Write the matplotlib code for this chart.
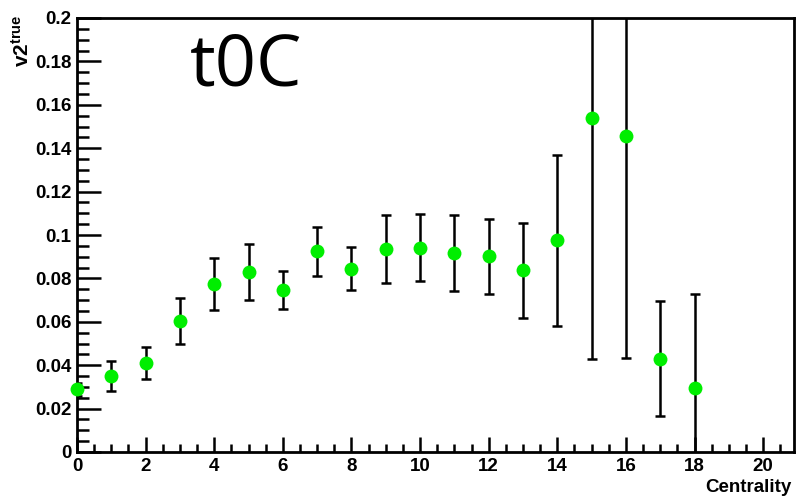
import matplotlib
matplotlib.use("Agg")
import matplotlib.pyplot as plt
from matplotlib.ticker import MultipleLocator, FuncFormatter

# Elliptic flow v2 per centrality bin
centrality = list(range(19))
v2_true = [0.0290, 0.0350, 0.0410, 0.0604, 0.0773, 0.0830, 0.0748, 0.0925,
           0.0845, 0.0937, 0.0942, 0.0916, 0.0903, 0.0837, 0.0975, 0.1540,
           0.1455, 0.0430, 0.0293]
v2_err = [0.0030, 0.0070, 0.0073, 0.0105, 0.0120, 0.0128, 0.0087, 0.0114,
          0.0099, 0.0157, 0.0153, 0.0175, 0.0173, 0.0218, 0.0393, 0.1110,
          0.1020, 0.0264, 0.0433]

plt.rcParams["font.family"] = ["Liberation Sans", "DejaVu Sans"]
plt.rcParams["mathtext.fontset"] = "custom"
plt.rcParams["mathtext.bf"] = "Liberation Sans:bold"
plt.rcParams["mathtext.rm"] = "Liberation Sans:bold"

fig = plt.figure(figsize=(7.96, 4.99), dpi=100)
ax = fig.add_axes([77 / 796, 47 / 499, 717 / 796, 434 / 499])

ax.errorbar(centrality, v2_true, yerr=v2_err, fmt="none", ecolor="black",
            elinewidth=1.8, capsize=3.5, capthick=1.8, zorder=2)
ax.plot(centrality, v2_true, "o", color="#00ee00", markersize=10,
        markeredgewidth=0, zorder=3, clip_on=False)

ax.set_xlim(0, 20.9)
ax.set_ylim(0, 0.2)

ax.xaxis.set_major_locator(MultipleLocator(2))
ax.xaxis.set_minor_locator(MultipleLocator(0.5))
ax.yaxis.set_major_locator(MultipleLocator(0.02))
ax.yaxis.set_minor_locator(MultipleLocator(0.005))

def yfmt(v, pos):
    if abs(v) < 1e-9:
        return "0"
    return ("%.2f" % v).rstrip("0")

ax.yaxis.set_major_formatter(FuncFormatter(yfmt))
ax.xaxis.set_major_formatter(FuncFormatter(lambda v, p: "%d" % round(v)))

ax.tick_params(axis="both", which="both", direction="in", top=False,
               right=False, width=1.8, labelsize=13.5)
ax.tick_params(axis="x", which="major", length=11, pad=4)
ax.tick_params(axis="x", which="minor", length=5.5)
ax.tick_params(axis="y", which="major", length=17, pad=4)
ax.tick_params(axis="y", which="minor", length=8.5)
for lab in ax.get_xticklabels() + ax.get_yticklabels():
    lab.set_fontweight("bold")

for side in ("left", "bottom", "top", "right"):
    ax.spines[side].set_linewidth(2)

ax.text(0.158, 0.888, "t0C", transform=ax.transAxes, fontsize=52,
        family=["Open Sans", "DejaVu Sans"], ha="left", va="center")

fig.text(792 / 796, 1 - 487 / 499, "Centrality", ha="right", va="center",
         fontsize=13.5, fontweight="bold")
fig.text(22 / 796, 1 - 14 / 499, r"$\mathbf{v2^{true}}$", rotation=90,
         ha="center", va="top", fontsize=15)

fig.savefig("out.png", dpi=100)
